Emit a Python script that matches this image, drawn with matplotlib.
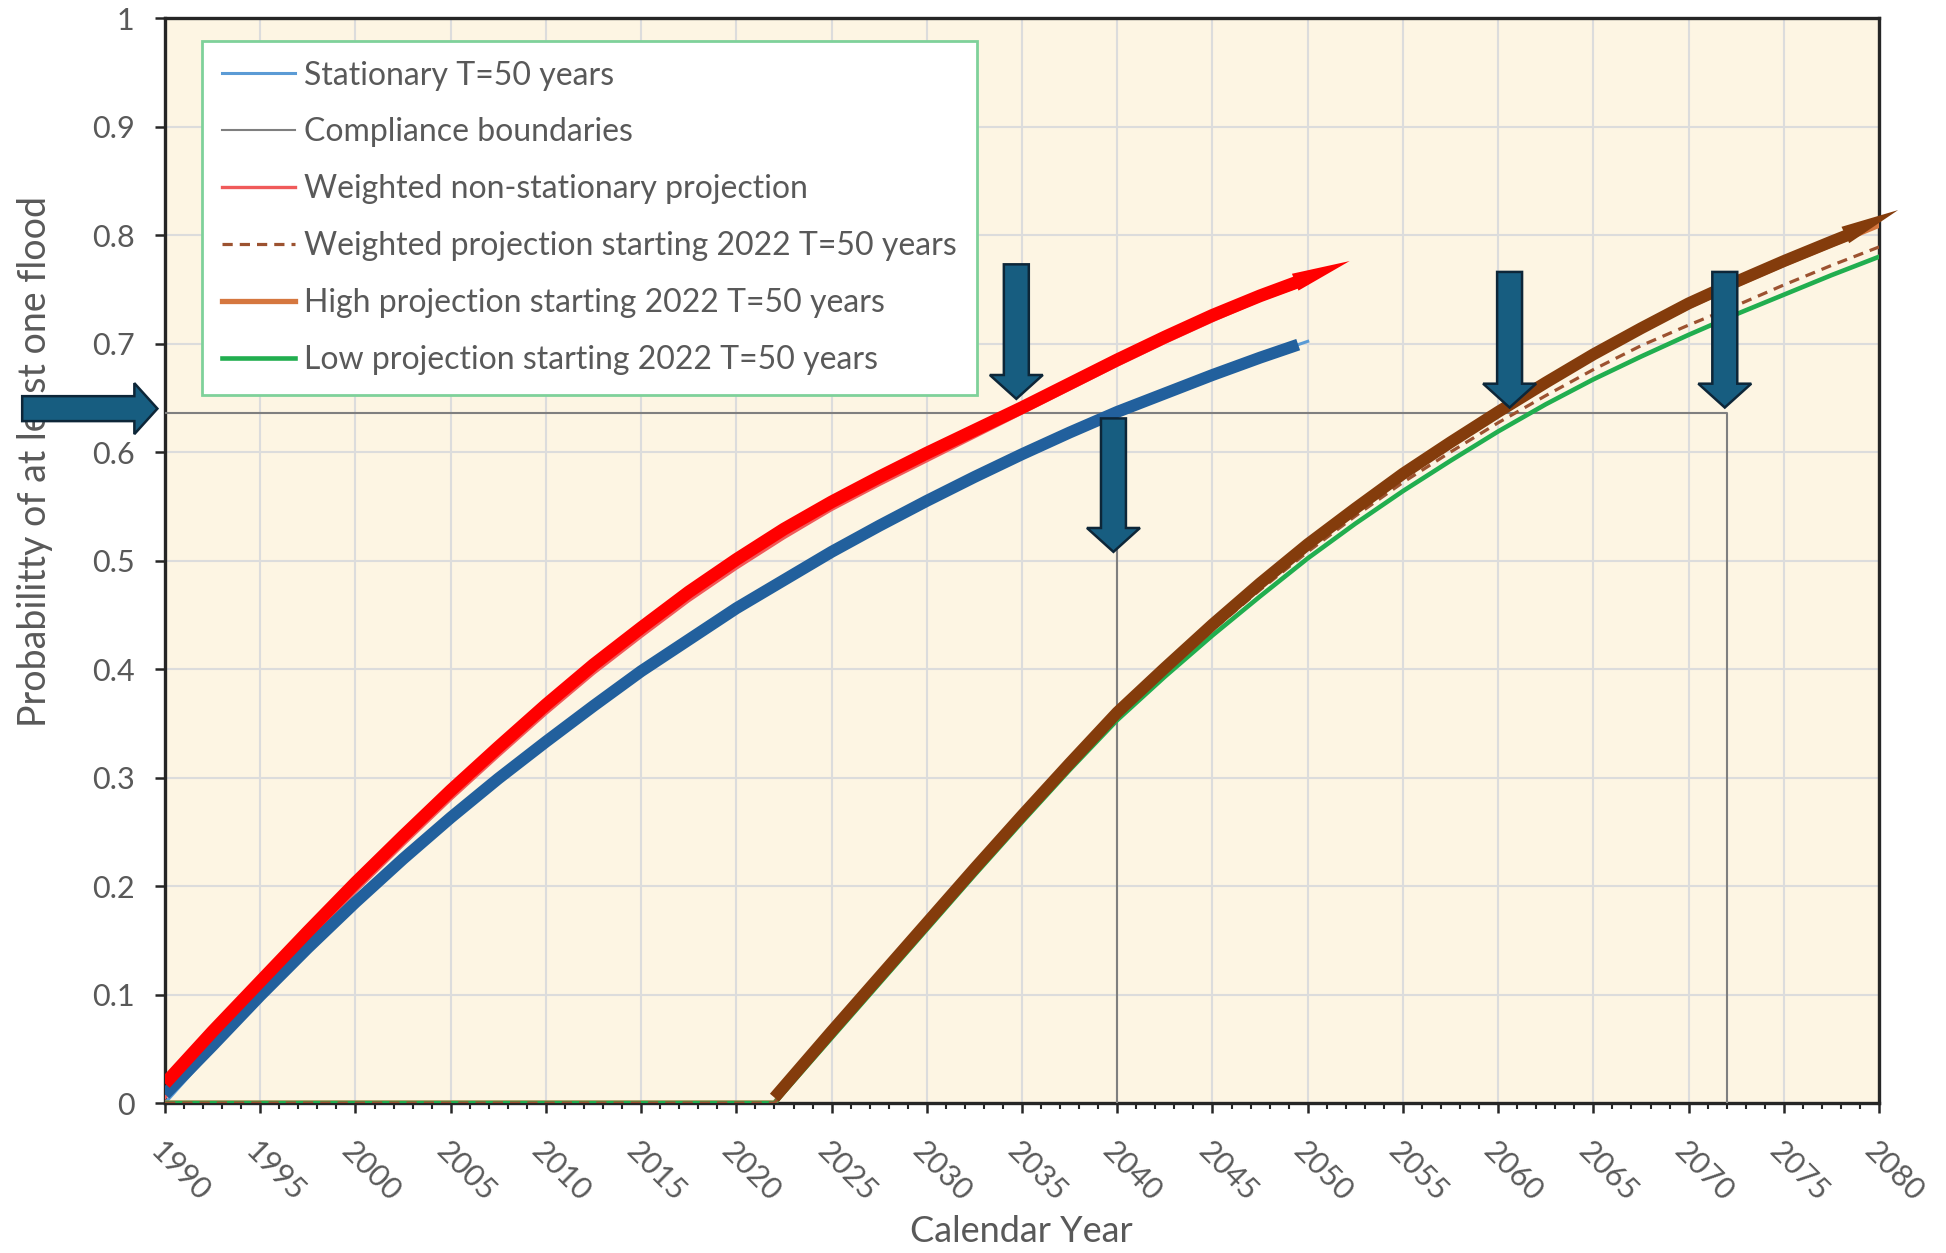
import matplotlib.pyplot as plt
from matplotlib.patches import FancyArrow
from matplotlib.ticker import MultipleLocator

plt.rcParams['font.family'] = ['Lato', 'DejaVu Sans']

TEXT = '#595959'

# probability of at least one flood since 1990
years_hist = [1990, 1992.5, 1995, 1997.5, 2000, 2002.5, 2005, 2007.5, 2010, 2012.5, 2015, 2017.5, 2020,
              2022.5, 2025, 2027.5, 2030, 2032.5, 2035, 2037.5, 2040, 2042.5, 2045, 2047.5, 2050]
stationary = [0.0, 0.049, 0.096, 0.141, 0.183, 0.223, 0.261, 0.298, 0.332, 0.365, 0.397, 0.426, 0.455,
              0.481, 0.507, 0.531, 0.554, 0.576, 0.597, 0.617, 0.636, 0.653, 0.671, 0.687, 0.702]
weighted_ns = [0.005, 0.058, 0.104, 0.150, 0.195, 0.238, 0.280, 0.320, 0.359, 0.396, 0.430, 0.463, 0.493,
               0.521, 0.547, 0.570, 0.592, 0.614, 0.636, 0.658, 0.680, 0.701, 0.721, 0.740, 0.756]

# projections counted from 2022
years_proj = [1990, 2022, 2025, 2027.5, 2030, 2032.5, 2035, 2037.5, 2040, 2042.5, 2045, 2047.5, 2050,
              2052.5, 2055, 2057.5, 2060, 2062.5, 2065, 2067.5, 2070, 2072.5, 2075, 2077.5, 2080]
weighted_2022 = [0, 0, 0.062, 0.112, 0.162, 0.212, 0.262, 0.310, 0.356, 0.397, 0.436, 0.473, 0.508,
                 0.541, 0.572, 0.600, 0.627, 0.652, 0.676, 0.698, 0.717, 0.735, 0.754, 0.772, 0.789]
high_2022 = [0, 0, 0.064, 0.114, 0.165, 0.215, 0.265, 0.313, 0.360, 0.401, 0.440, 0.478, 0.514,
             0.548, 0.580, 0.608, 0.636, 0.663, 0.688, 0.712, 0.734, 0.754, 0.773, 0.791, 0.809]
low_2022 = [0, 0, 0.060, 0.110, 0.160, 0.210, 0.259, 0.307, 0.353, 0.393, 0.431, 0.467, 0.502,
            0.534, 0.564, 0.592, 0.619, 0.644, 0.667, 0.688, 0.708, 0.727, 0.745, 0.763, 0.780]

# hand-drawn highlight traces over the curves
stat_trace_x = years_hist[:-1] + [2049.5]
stat_trace_y = [0.008, 0.053, 0.099, 0.143, 0.185, 0.225, 0.263, 0.299, 0.333, 0.366, 0.398, 0.427, 0.456,
                0.482, 0.508, 0.532, 0.555, 0.577, 0.598, 0.618, 0.637, 0.654, 0.671, 0.687, 0.699]
red_trace_x = years_hist[:-1] + [2049.5]
red_trace_y = [0.018, 0.066, 0.112, 0.158, 0.203, 0.246, 0.288, 0.328, 0.367, 0.404, 0.438, 0.471, 0.501,
               0.529, 0.554, 0.577, 0.599, 0.620, 0.641, 0.663, 0.685, 0.706, 0.726, 0.744, 0.757]
red_tip = (2052.2, 0.776)
brown_trace_x = years_proj[1:-1] + [2078.5]
brown_trace_y = [0.005, 0.066, 0.116, 0.166, 0.216, 0.265, 0.313, 0.360, 0.401, 0.441, 0.479, 0.515,
                 0.548, 0.580, 0.609, 0.637, 0.664, 0.690, 0.714, 0.737, 0.757, 0.776, 0.794, 0.801]
brown_tip = (2081.0, 0.823)

# compliance level (T=50 over 50 years) and the years where it is reached
compliance = 0.636
compliance_years = [2040, 2072]

fig = plt.figure(figsize=(19.46, 12.53), dpi=100)
ax = fig.add_axes([0.0848, 0.1197, 0.8808, 0.8659])
ax.set_facecolor('#FDF5E3')

ax.plot(years_hist, stationary, color='#5B9BD5', lw=2.2, label='Stationary T=50 years', zorder=3)
ax.plot([years_hist[0], compliance_years[1], compliance_years[1]], [compliance, compliance, 0],
        color='#7F7F7F', lw=1.5, label='Compliance boundaries', zorder=2.6)
ax.plot([compliance_years[0]] * 2, [0, compliance], color='#7F7F7F', lw=1.5, zorder=2.6)
ax.plot(years_hist, weighted_ns, color='#F05A5A', lw=2.4, label='Weighted non-stationary projection', zorder=3)
ax.plot(years_proj, high_2022, color='#D5773F', lw=3.8, label='High projection starting 2022 T=50 years', zorder=3)
ax.plot(years_proj, weighted_2022, color='#9C5230', lw=2.3, ls=(0, (3.2, 2.2)),
        label='Weighted projection starting 2022 T=50 years', zorder=3.1)
ax.plot(years_proj, low_2022, color='#21AE4F', lw=3.3, label='Low projection starting 2022 T=50 years', zorder=3)

# thick highlight traces
ax.plot(stat_trace_x, stat_trace_y, color='#22609D', lw=8.6, solid_capstyle='butt', zorder=4)
ax.plot(red_trace_x, red_trace_y, color='#FF0000', lw=9.2, solid_capstyle='butt', zorder=4.1)
ax.plot(brown_trace_x, brown_trace_y, color='#843C0C', lw=8.6, solid_capstyle='butt', zorder=4.1)
for tx, ty, tip, c in [(red_trace_x, red_trace_y, red_tip, '#FF0000'),
                       (brown_trace_x, brown_trace_y, brown_tip, '#843C0C')]:
    ax.annotate('', xy=tip, xytext=(tx[-2], ty[-2]), annotation_clip=False,
                arrowprops=dict(arrowstyle='-|>,head_length=4.2,head_width=0.65', mutation_scale=10,
                                color=c, lw=0, shrinkA=0, shrinkB=0, clip_on=False), zorder=4.1)

# block arrows pointing at the crossings
arrow_kw = dict(length_includes_head=True, facecolor='#175D80', edgecolor='#0D2638',
                lw=1.8, zorder=6, clip_on=False)
ax.add_patch(FancyArrow(1982.5, compliance + 0.004, 7.1, 0, width=0.023,
                        head_width=0.047, head_length=1.21, **arrow_kw))
for x, top, tip in [(2034.7, 0.773, 0.649), (2039.8, 0.631, 0.508),
                    (2060.6, 0.766, 0.641), (2071.9, 0.766, 0.641)]:
    ax.add_patch(FancyArrow(x, top, 0, tip - top, width=1.31,
                            head_width=2.78, head_length=0.022, **arrow_kw))

ax.set_xlim(1990, 2080)
ax.set_ylim(0, 1)
ax.xaxis.set_major_locator(MultipleLocator(5))
ax.xaxis.set_minor_locator(MultipleLocator(1))
yt = [i / 10 for i in range(11)]
ax.set_yticks(yt, ['0'] + [f'{v:.1f}' for v in yt[1:-1]] + ['1'])
ax.grid(True, which='major', color='#DCDCDC', lw=1.5, zorder=0)
ax.set_axisbelow(True)

for s in ax.spines.values():
    s.set_color('#262626')
    s.set_linewidth(2.4)
ax.tick_params(axis='both', which='major', direction='out', length=7, width=1.8, color='#262626',
               labelsize=22, labelcolor=TEXT)
ax.tick_params(axis='x', which='minor', direction='out', length=4, width=1.5, color='#262626')
ax.tick_params(axis='y', pad=15)
ax.tick_params(axis='x', pad=17)
for lab in ax.get_xticklabels():
    lab.set_rotation(-45)
    lab.set_rotation_mode('anchor')
    lab.set_ha('left')
    lab.set_va('top')

ax.set_xlabel('Calendar Year', fontsize=26, color=TEXT)
ax.xaxis.set_label_coords(0.4995, -0.118)
ax.xaxis.label.set_va('center')
ax.set_ylabel('Probabilitty of at least one flood', fontsize=27, color=TEXT)
ax.yaxis.set_label_coords(-0.076, 0.591)
ax.yaxis.label.set_va('center')

handles, labels = ax.get_legend_handles_labels()
order = [0, 1, 2, 4, 3, 5]
leg = ax.legend([handles[i] for i in order], [labels[i] for i in order],
                loc='upper left', bbox_to_anchor=(0.0216, 0.979), borderaxespad=0,
                fontsize=23, frameon=True, fancybox=False, framealpha=1,
                edgecolor='#7FD19A', handlelength=2.3, handletextpad=0.27,
                labelspacing=0.84, borderpad=0.62, labelcolor=TEXT)
leg.get_frame().set_linewidth(2)
leg.set_zorder(5)

fig.savefig('out.png', dpi=100, facecolor='white')
